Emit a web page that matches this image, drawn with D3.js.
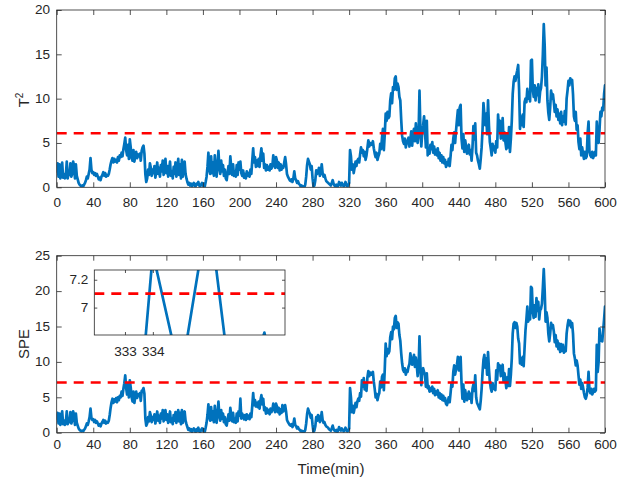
<!DOCTYPE html>
<html><head><meta charset="utf-8">
<script src="https://cdn.jsdelivr.net/npm/d3@7"></script>
<style>
body{margin:0;background:#fff}
svg text{font-family:"Liberation Sans",Arial,Helvetica,sans-serif;fill:#262626}
</style>
</head><body>
<svg id="c" width="627" height="479"></svg>
<script>
// ---------------- data ----------------
const xTicks = [0,40,80,120,160,200,240,280,320,360,400,440,480,520,560,600];
const t2Ticks = [0,5,10,15,20];
const speTicks = [0,5,10,15,20,25];
const insetXTicks = [333,334];
const insetYTicks = [7,7.2];
const t2Limit = 6.1;
const speLimit = 7.1;

const t2 = [
1.8,2.7,1.2,2.6,1.0,1.3,2.8,1.1,1.5,1.0,
1.3,2.9,1.0,1.6,1.4,2.7,1.2,1.5,2.9,2.4,
1.0,2.6,1.3,0.9,0.5,0.3,0.2,0.1,0.2,0.1,
0.3,0.5,0.8,1.2,1.0,1.5,2.0,3.3,2.0,1.6,
1.7,1.4,1.6,1.3,1.5,1.2,0.9,1.1,0.8,1.2,
1.4,1.7,1.3,1.6,1.2,1.4,1.3,1.5,2.0,2.6,
3.0,3.3,2.8,3.2,2.9,3.1,2.8,3.4,3.0,3.6,
3.4,3.9,3.5,4.3,4.9,5.6,4.2,3.6,4.8,3.2,
5.4,4.5,3.3,3.0,4.2,2.9,3.5,4.0,3.3,3.7,
3.5,3.8,3.0,4.1,4.5,4.7,3.8,1.5,0.6,1.0,
2.0,1.4,2.7,2.2,1.3,2.0,1.6,2.4,1.1,2.0,
2.8,1.5,2.2,1.2,2.5,1.8,3.0,1.4,2.1,3.2,
1.6,2.4,1.2,2.0,2.9,1.3,1.8,1.0,2.3,1.5,
2.8,1.2,2.0,3.2,1.4,2.6,1.0,3.1,1.2,2.2,
2.9,1.5,1.0,0.6,0.3,0.5,0.2,0.4,0.1,0.3,
0.5,0.2,0.1,0.4,0.3,0.6,0.2,0.1,0.3,0.5,
0.2,0.4,0.1,0.6,1.2,2.3,3.9,2.0,1.5,3.5,
1.6,2.8,1.3,3.6,2.0,1.2,2.6,4.1,2.2,1.5,
3.0,1.8,2.5,1.3,2.0,1.0,0.8,1.6,2.4,1.5,
3.5,2.2,1.4,2.6,1.3,1.8,1.2,2.5,1.4,2.8,
2.0,2.9,1.6,1.3,1.9,1.1,1.5,1.0,1.8,1.3,
1.6,1.2,2.0,1.5,3.0,4.4,2.8,3.4,2.3,3.0,
2.4,3.2,2.3,3.6,4.4,3.0,3.8,2.2,2.6,1.9,
2.5,2.0,2.3,1.9,2.6,2.1,2.4,3.6,2.8,2.2,
3.4,3.0,2.2,2.8,1.9,2.6,2.0,2.4,2.2,2.8,
3.4,2.6,1.5,1.2,1.0,0.8,0.7,0.9,0.6,1.0,
1.8,1.0,0.8,0.5,0.7,0.4,0.3,0.1,0.2,0.0,
0.1,0.0,0.3,1.2,2.5,3.2,2.9,2.6,2.0,2.4,
1.0,0.1,0.2,0.8,1.9,1.5,1.7,2.2,1.3,1.6,
2.6,1.6,1.2,1.4,1.0,0.7,0.6,0.5,0.4,0.3,
0.2,0.5,0.8,0.4,0.2,0.1,0.3,0.0,0.2,0.6,
0.4,0.2,0.5,0.3,0.1,0.2,0.6,0.3,0.1,0.2,
0.5,4.2,3.5,2.0,2.6,1.6,2.2,2.9,2.4,3.0,
3.2,2.8,3.7,4.5,3.9,4.2,3.5,4.0,3.1,3.6,
4.4,5.3,4.6,5.0,4.8,4.9,5.2,4.4,3.8,3.4,
3.9,3.1,3.5,3.8,4.9,4.3,5.6,6.6,4.2,6.0,
8.3,7.5,8.5,7.8,8.0,9.8,10.6,9.5,11.3,11.0,
12.3,12.5,11.0,11.7,11.3,10.2,9.8,7.6,5.8,5.2,
4.9,5.5,4.5,5.0,5.3,5.6,4.6,5.4,6.3,4.7,
6.1,6.6,5.2,7.2,5.5,5.0,6.0,10.9,6.5,4.6,
6.2,7.0,8.0,6.3,4.5,7.5,3.6,4.2,3.8,4.8,
4.3,5.1,3.9,4.6,3.7,4.2,3.6,4.4,3.3,3.9,
3.0,3.6,2.8,3.4,2.7,3.1,2.3,2.8,2.5,3.2,
2.4,3.5,4.8,4.2,5.5,6.2,5.0,6.4,7.6,8.7,
7.0,9.0,9.3,5.5,4.4,6.0,4.0,5.3,4.6,3.8,
4.4,4.8,3.7,4.2,3.0,4.5,6.9,5.4,7.2,3.9,
3.6,3.0,2.6,2.1,3.2,4.5,6.5,9.5,8.2,7.0,
8.3,6.0,9.8,7.0,5.1,4.4,3.6,4.9,4.2,4.6,
3.9,5.2,4.5,8.2,6.4,7.5,5.5,6.0,7.8,5.3,
6.2,5.1,4.3,5.9,4.5,6.8,4.0,5.5,7.5,10.5,
11.9,12.5,12.0,12.7,13.2,13.8,11.0,6.6,8.0,7.0,
8.2,6.8,9.6,10.0,9.6,11.1,10.0,10.5,9.7,14.3,
14.4,11.0,10.2,11.5,9.8,11.2,10.4,11.6,9.6,10.8,
11.2,12.5,15.0,18.4,16.0,11.5,13.5,9.8,8.4,7.6,
9.0,10.9,10.0,10.5,9.6,8.5,9.3,8.0,8.8,7.6,
8.3,7.2,8.5,7.0,8.0,7.4,8.6,7.1,10.0,10.9,
12.0,11.5,12.3,12.0,12.1,10.5,8.0,7.5,8.5,6.5,
7.0,5.1,4.3,5.5,3.6,4.5,3.8,3.2,4.0,3.3,
3.5,6.1,7.4,4.0,3.6,3.4,4.0,3.3,3.6,4.0,
3.6,7.4,5.5,5.0,6.5,8.5,8.0,9.0,8.7,10.5,
11.5];

const spe = [
2.0,2.8,1.3,2.7,1.1,1.5,3.0,1.2,1.7,1.1,
1.5,3.0,1.2,1.8,1.5,2.9,1.3,1.7,3.0,2.5,
1.1,2.7,1.4,1.0,0.6,0.4,0.3,0.2,0.3,0.2,
0.4,0.6,0.9,1.3,1.1,1.6,2.2,3.4,2.1,1.8,
1.9,1.5,1.8,1.4,1.6,1.3,1.0,1.2,0.9,1.3,
1.5,1.8,1.4,1.7,1.3,1.5,1.4,1.7,2.5,3.5,
4.3,4.8,4.2,4.7,4.4,4.9,4.3,5.0,4.6,5.2,
5.0,5.8,5.2,6.2,7.0,8.1,6.3,5.4,6.9,5.0,
7.4,6.4,5.0,4.4,5.8,4.2,5.1,5.8,4.9,5.4,
5.2,5.6,4.5,5.9,6.0,6.3,5.5,2.0,1.0,1.3,
2.2,1.6,2.9,2.4,1.5,2.2,1.8,2.6,1.3,2.2,
3.0,1.7,2.4,1.4,2.7,2.0,3.2,1.6,2.3,3.2,
1.8,2.6,1.4,2.2,3.0,1.5,2.0,1.2,2.5,1.7,
2.9,1.4,2.2,3.2,1.6,2.8,1.2,3.2,1.4,2.4,
3.0,1.7,1.2,0.8,0.4,0.6,0.3,0.5,0.1,0.4,
0.6,0.3,0.1,0.5,0.3,0.7,0.2,0.1,0.4,0.6,
0.3,0.5,0.1,0.7,1.4,2.5,4.0,2.2,1.7,3.6,
1.8,3.0,1.5,3.8,2.2,1.4,2.8,4.4,2.4,1.7,
3.2,2.0,2.7,1.5,2.2,1.2,1.0,1.8,2.6,1.7,
3.5,2.4,1.6,2.8,1.5,2.0,1.4,2.7,1.6,3.0,
2.4,4.8,2.0,2.7,2.3,1.9,2.5,1.8,2.6,2.0,
2.4,1.9,2.7,2.2,3.8,5.6,3.9,4.6,3.7,4.2,
3.6,4.4,3.4,4.6,5.3,4.0,4.8,3.2,3.6,2.7,
3.4,2.8,3.2,2.6,3.4,2.9,3.2,4.1,3.5,2.9,
4.1,3.7,2.9,3.5,2.6,3.3,2.8,3.9,3.0,3.4,
3.9,3.0,1.8,1.5,1.3,1.1,1.0,1.2,0.8,1.2,
2.0,1.1,0.9,0.6,0.8,0.5,0.4,0.2,0.3,0.1,
0.2,0.1,0.4,1.3,2.6,3.4,3.0,2.7,2.1,2.5,
1.1,0.1,0.3,0.9,2.2,1.7,2.5,2.3,1.5,1.9,
2.9,1.8,1.4,1.5,1.1,0.9,0.8,0.7,0.5,0.4,
0.3,0.6,1.0,0.5,0.3,0.2,0.4,0.1,0.3,0.8,
0.5,0.3,0.6,0.4,0.2,0.3,0.7,0.4,0.2,0.3,
0.6,6.3,5.0,2.9,3.8,2.8,3.5,4.2,3.6,4.4,
4.8,4.5,5.6,5.08,7.39,6.5,7.72,6.1,6.82,5.9,
7.8,8.7,8.0,8.5,8.2,8.4,8.6,7.2,6.2,5.0,
5.5,4.6,5.2,5.6,7.2,6.4,7.9,8.2,6.0,9.0,
12.6,10.8,11.8,11.2,11.5,13.5,14.2,13.2,15.0,14.6,
16.2,16.5,14.8,15.6,15.4,13.8,13.0,11.2,9.8,8.9,
8.6,9.1,8.2,8.8,8.6,9.3,9.7,11.2,10.2,9.6,
10.4,11.0,9.3,10.6,9.5,8.0,9.1,13.6,9.5,6.7,
8.8,9.1,8.6,8.1,6.5,8.4,6.3,6.6,5.8,6.3,
5.9,6.5,5.6,6.2,5.3,5.8,5.4,6.0,5.0,5.6,
4.8,5.4,4.6,5.2,4.5,4.9,4.1,3.9,4.4,5.0,
4.3,5.6,7.0,6.5,8.6,9.5,8.2,9.0,9.6,10.7,
8.8,10.5,10.7,7.0,4.8,6.8,4.4,6.0,5.2,4.6,
5.3,5.8,4.8,5.5,4.2,6.2,6.8,5.9,8.1,5.0,
4.2,3.9,3.6,3.3,4.5,6.2,8.5,10.3,11.0,9.2,
10.5,8.2,11.4,9.0,7.2,6.3,5.8,7.0,6.2,6.6,
6.0,8.8,7.5,9.8,9.0,9.5,8.0,8.7,9.6,7.2,
8.4,7.5,6.3,7.8,6.6,9.0,6.6,8.2,10.5,14.0,
15.4,15.6,14.8,15.5,15.0,13.3,12.6,9.8,10.5,9.6,
10.7,9.4,12.0,14.5,16.0,17.8,15.7,16.5,16.0,20.6,
20.4,17.0,16.2,18.0,16.4,19.0,17.2,18.5,16.0,17.3,
17.5,18.2,20.5,23.1,20.0,15.7,17.0,16.2,14.0,12.9,
14.0,15.5,14.8,15.2,14.3,12.8,13.8,12.2,13.0,11.8,
12.6,11.4,12.5,11.6,12.4,11.3,12.0,11.5,14.0,15.1,
15.9,15.2,15.8,14.9,15.5,14.0,11.2,10.5,9.5,10.2,
9.5,8.1,6.8,7.5,6.2,7.0,6.4,5.6,5.0,4.8,
5.3,6.4,8.6,6.0,5.6,6.2,5.4,5.7,6.2,5.8,
6.0,12.4,8.6,10.0,14.7,13.0,13.5,12.9,14.5,16.0,
17.8];

const times = d3.range(t2.length); // minute index 0..600

// ---------------- drawing ----------------
const svg = d3.select('#c');
const BLUE = '#0072BD', RED = '#FF0000', AX = '#262626';
const STRETCH = 1.13;

function stretchTexts(sel, k){
  sel.each(function(){
    const L = this.getComputedTextLength();
    if (L > 0){ this.setAttribute('textLength', L*k); this.setAttribute('lengthAdjust','spacingAndGlyphs'); }
  });
}

let clipId = 0;
function panel(box, xDomain, yDomain, values, limit, xt, yt, opt){
  const x = d3.scaleLinear().domain(xDomain).range([box.l, box.r]);
  const y = d3.scaleLinear().domain(yDomain).range([box.b, box.t]);
  const g = svg.append('g');
  const id = 'clip' + (clipId++);
  g.append('clipPath').attr('id', id).append('rect')
    .attr('x', box.l).attr('y', box.t).attr('width', box.r-box.l).attr('height', box.b-box.t);
  if (opt.bg) g.append('rect').attr('x',box.l).attr('y',box.t).attr('width',box.r-box.l).attr('height',box.b-box.t).attr('fill','#fff');

  const plot = g.append('g').attr('clip-path', `url(#${id})`);
  const line = d3.line().x((d,i)=>x(times[i])).y(d=>y(d));
  plot.append('path').datum(values).attr('d', line)
    .attr('fill','none').attr('stroke',BLUE).attr('stroke-width',2.7)
    .attr('stroke-linejoin','round').attr('stroke-linecap','round');
  plot.append('path').datum(xDomain)
    .attr('d', d3.line().x(d=>x(d)).y(()=>y(limit)))
    .attr('fill','none').attr('stroke',RED).attr('stroke-width',2.6)
    .attr('stroke-dasharray','10,7');

  const tl = opt.tickLen;
  const clean = a => { a.select('.domain').remove(); a.attr('font-size', null).attr('font-family', null).attr('color', AX); a.selectAll('line').attr('stroke-width',0.8); };
  const ax1 = g.append('g').attr('transform',`translate(0,${box.b})`)
    .call(d3.axisBottom(x).tickValues(xt).tickSizeInner(-tl).tickSizeOuter(0).tickPadding(opt.xPad).tickFormat(d3.format('d')));
  clean(ax1);
  ax1.selectAll('text').attr('font-size', 12);
  const ax2 = g.append('g').attr('transform',`translate(0,${box.t})`)
    .call(d3.axisTop(x).tickValues(xt).tickSizeInner(-tl).tickSizeOuter(0).tickFormat(''));
  clean(ax2);
  const ax3 = g.append('g').attr('transform',`translate(${box.l},0)`)
    .call(d3.axisLeft(y).tickValues(yt).tickSizeInner(-tl).tickSizeOuter(0).tickPadding(opt.yPad).tickFormat(opt.yFmt||d3.format('d')));
  clean(ax3);
  ax3.selectAll('text').attr('font-size', 12);
  const ax4 = g.append('g').attr('transform',`translate(${box.r},0)`)
    .call(d3.axisRight(y).tickValues(yt).tickSizeInner(-tl).tickSizeOuter(0).tickFormat(''));
  clean(ax4);
  g.append('rect').attr('x',box.l).attr('y',box.t).attr('width',box.r-box.l).attr('height',box.b-box.t)
    .attr('fill','none').attr('stroke',AX).attr('stroke-width',0.8);
  stretchTexts(ax1.selectAll('text'), STRETCH);
  stretchTexts(ax3.selectAll('text'), STRETCH);
  return g;
}

const topBox = {l:56.7, r:605, t:10, b:187.3};
const botBox = {l:56.7, r:605, t:255.7, b:432.7};
const insBox = {l:94.3, r:285, t:270, b:335};

panel(topBox, [0,600], [0,20], t2, t2Limit, xTicks, t2Ticks, {tickLen:5, xPad:11.4, yPad:6.7});
panel(botBox, [0,600], [0,25], spe, speLimit, xTicks, speTicks, {tickLen:5, xPad:7.5, yPad:6.7});
panel(insBox, [331.9,338.74], [6.803,7.27], spe, speLimit, insetXTicks, insetYTicks,
      {tickLen:3, xPad:12.7, yPad:6, bg:true, yFmt:d3.format('~g')});

// axis labels
function rotLabel(cx, cy, size){
  return svg.append('text').attr('transform',`translate(${cx},${cy}) rotate(-90)`)
    .attr('text-anchor','middle').attr('font-size',size);
}
const l1 = rotLabel(29, 100, 15);
l1.append('tspan').text('T');
l1.append('tspan').attr('font-size',10).attr('dy',-6).text('2');
rotLabel(28.5, 344, 15).text('SPE');
const xl = svg.append('text').attr('x',331).attr('y',474).attr('text-anchor','middle').attr('font-size',14).text('Time(min)');
stretchTexts(xl, 1.07);
</script>
</body></html>
